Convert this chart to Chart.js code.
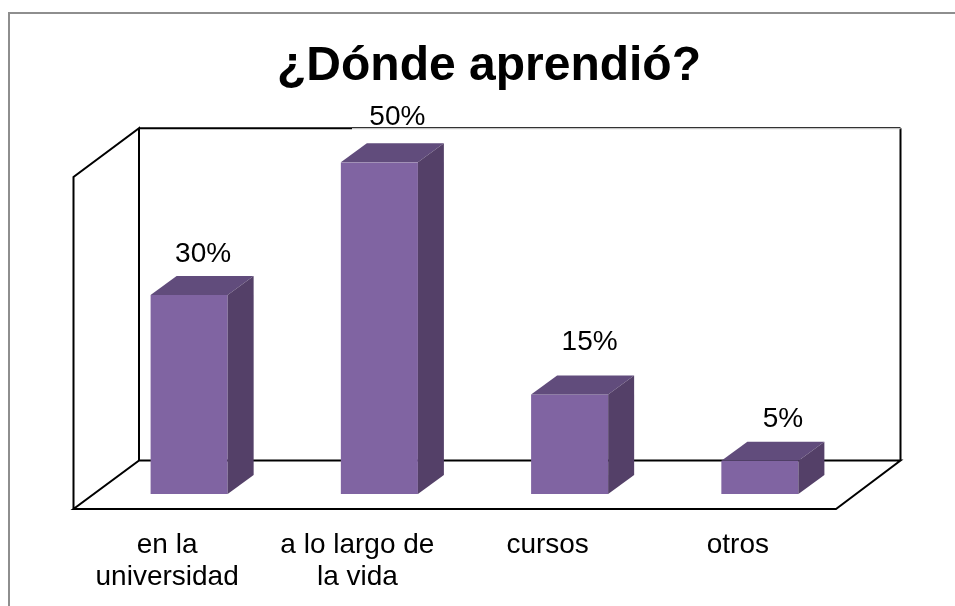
<!DOCTYPE html>
<html>
<head>
<meta charset="utf-8">
<script src="https://cdn.jsdelivr.net/npm/chart.js@4"></script>
<style>
    html, body { margin: 0; background: #fff; overflow: hidden; }
    #frame { position: absolute; left: 8px; top: 12px; width: 947px; height: 594px; border-left: 2px solid #8e8e8e; border-top: 2px solid #8e8e8e; box-sizing: border-box; }
    canvas { position: absolute; left: 0; top: 0; }
</style>
</head>
<body>
<div id="frame"></div>
<canvas id="chart" width="955" height="606"></canvas>
<script>
const categories = [['en la', 'universidad'], ['a lo largo de', 'la vida'], 'cursos', 'otros'];
const percentages = [30, 50, 15, 5];
const fontFamily = '"Liberation Sans", Arial, sans-serif';

// depth of the fake 3d bars and of the chart box
const barDepth = { x: 26, y: 19 };
const labelNudge = [[14, -41], [18, -45], [20, -52], [23, -42]];

const box3d = {
    id: 'box3d',
    afterLayout(chart) {
        // title sits right of the plot centre in the original
        chart.titleBlock.left += 14.5;
        chart.titleBlock.right += 14.5;
    },
    beforeDatasetsDraw(chart) {
        const { ctx, scales: { x, y } } = chart;
        const base = y.getPixelForValue(0);
        const backLeft = x.left + 45;
        const backRight = x.right + 45.5;
        const backBottom = base - 33.5;
        const backTop = y.getPixelForValue(50) - 34;
        const frontLeft = x.left - 20.5;
        const frontRight = x.right - 19;
        const frontBottom = base + 15;

        ctx.save();
        ctx.strokeStyle = '#000';
        ctx.lineWidth = 2;
        ctx.beginPath();
        ctx.moveTo(frontLeft, frontBottom);
        ctx.lineTo(frontLeft, frontBottom - 332);
        ctx.lineTo(backLeft, backTop);
        ctx.lineTo(backLeft, backBottom);
        ctx.lineTo(frontLeft, frontBottom);
        ctx.lineTo(frontRight, frontBottom);
        ctx.lineTo(backRight, backBottom);
        ctx.lineTo(backLeft, backBottom);
        ctx.moveTo(backRight, backBottom);
        ctx.lineTo(backRight, backTop);
        ctx.stroke();

        ctx.beginPath();
        ctx.moveTo(backLeft, backTop);
        ctx.lineTo(352, backTop);
        ctx.stroke();
        ctx.fillStyle = '#000';
        ctx.fillRect(352, backTop - 1, backRight - 352, 1);
        ctx.fillStyle = '#c4c4c4';
        ctx.fillRect(352, backTop, backRight - 352, 1);
        ctx.restore();
    },
    afterDatasetsDraw(chart) {
        const { ctx } = chart;
        const bars = chart.getDatasetMeta(0).data;
        ctx.save();
        bars.forEach((bar, i) => {
            const left = bar.x - bar.width / 2;
            const right = bar.x + bar.width / 2;
            ctx.fillStyle = '#614c7c';
            ctx.beginPath();
            ctx.moveTo(left, bar.y);
            ctx.lineTo(left + barDepth.x, bar.y - barDepth.y);
            ctx.lineTo(right + barDepth.x, bar.y - barDepth.y);
            ctx.lineTo(right, bar.y);
            ctx.closePath();
            ctx.fill();

            ctx.fillStyle = '#544068';
            ctx.beginPath();
            ctx.moveTo(right, bar.y);
            ctx.lineTo(right + barDepth.x, bar.y - barDepth.y);
            ctx.lineTo(right + barDepth.x, bar.base - barDepth.y);
            ctx.lineTo(right, bar.base);
            ctx.closePath();
            ctx.fill();

            ctx.fillStyle = '#000';
            ctx.font = '28px ' + fontFamily;
            ctx.textAlign = 'center';
            ctx.textBaseline = 'middle';
            ctx.fillText(percentages[i] + '%', bar.x + labelNudge[i][0], bar.y + labelNudge[i][1]);
        });
        ctx.restore();
    },
};

new Chart(document.getElementById('chart'), {
    type: 'bar',
    data: {
        labels: categories,
        datasets: [{
            data: percentages,
            backgroundColor: '#8064a2',
            borderWidth: 0,
            barPercentage: 0.405,
            categoryPercentage: 1,
        }],
    },
    plugins: [box3d],
    options: {
        responsive: false,
        animation: false,
        layout: { padding: { left: 94, right: 100, top: 0, bottom: 0 } },
        plugins: {
            legend: { display: false },
            tooltip: { enabled: false },
            title: {
                display: true,
                text: '¿Dónde aprendió?',
                color: '#000',
                font: { family: fontFamily, size: 48, weight: 'bold', lineHeight: 1.15 },
                padding: { top: 39, bottom: 68 },
            },
        },
        scales: {
            x: {
                grid: { display: false },
                border: { display: false },
                afterFit: (scale) => { scale.height = 112; },
                ticks: {
                    color: '#000',
                    font: { family: fontFamily, size: 28, lineHeight: 1.15 },
                    maxRotation: 0,
                    autoSkip: false,
                    labelOffset: -22,
                    padding: 27,
                },
            },
            y: {
                display: false,
                min: 0,
                max: 50,
            },
        },
    },
});
</script>
</body>
</html>
